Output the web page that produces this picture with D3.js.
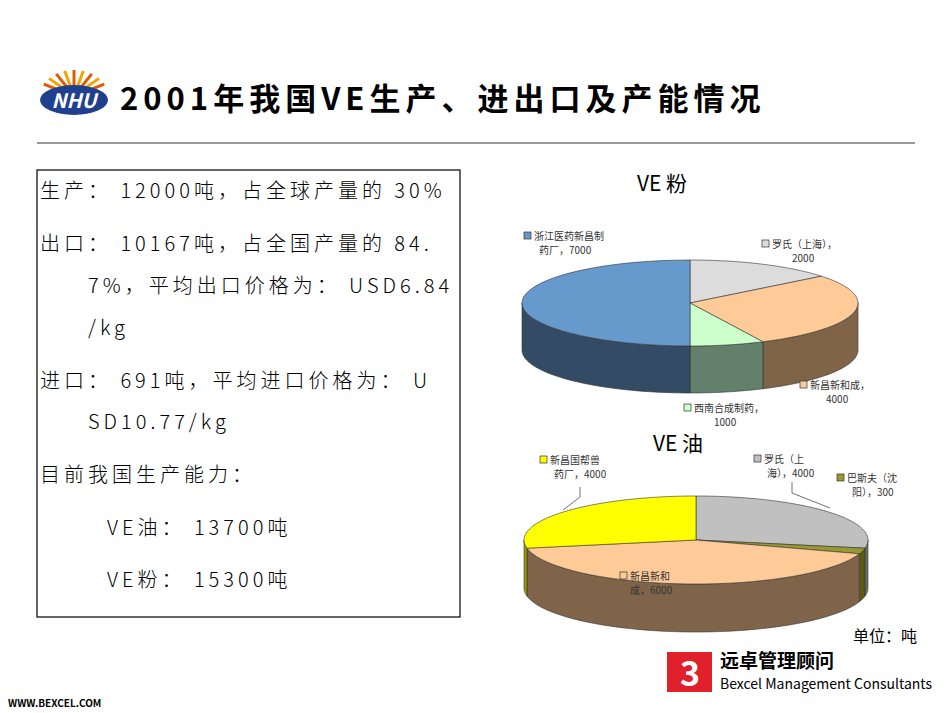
<!DOCTYPE html>
<html><head><meta charset="utf-8">
<script src="https://cdn.jsdelivr.net/npm/d3@7"></script>
<style>body{margin:0;background:#fff}text{font-family:"Noto Sans CJK SC",sans-serif}</style>
</head><body>
<svg id="chart" width="950" height="713"></svg>
<script>
// VE powder
const powderNames = ["罗氏（上海），", "新昌新和成，", "西南合成制药，", "浙江医药新昌制"];
const powderSub = ["2000", "4000", "1000", "药厂，7000"];
const powderValues = [2000, 4000, 1000, 7000];
const powderTop = ["#dcdcdc", "#fecb98", "#ccffcc", "#6699cc"];
const powderSide = ["#8a8a8a", "#806448", "#62806a", "#344b66"];
// VE oil
const oilNames = ["罗氏（上", "巴斯夫（沈", "新昌新和", "新昌国帮兽"];
const oilSub = ["海），4000", "阳），300", "成，6000", "药厂，4000"];
const oilValues = [4000, 300, 6000, 4000];
const oilTop = ["#c0c0c0", "#999933", "#fecb98", "#ffff00"];
const oilSide = ["#6f6f6f", "#5a5a10", "#7f6449", "#9a9a00"];
const textLines = [
  ["生产：  12000吨，占全球产量的 30%", 40, 198],
  ["出口：  10167吨，占全国产量的 84.", 40, 251],
  ["7%，平均出口价格为：  USD6.84", 88, 293],
  ["/kg", 88, 335],
  ["进口：  691吨，平均进口价格为：  U", 40, 388],
  ["SD10.77/kg", 88, 429],
  ["目前我国生产能力：", 40, 482],
  ["VE油：  13700吨", 107, 535],
  ["VE粉：  15300吨", 107, 587]
];

const svg = d3.select("#chart");

// header
const logo = svg.append("g");
d3.range(9).forEach(i => {
  const a = -Math.PI * 0.85 + i * Math.PI * 0.7 / 8;
  logo.append("line").attr("x1", 74).attr("y1", 96)
    .attr("x2", 74 + 34 * Math.cos(a)).attr("y2", 96 + 26 * Math.sin(a))
    .attr("stroke", i % 2 ? "#f4a300" : "#e05a00").attr("stroke-width", 3);
});
logo.append("ellipse").attr("cx", 74).attr("cy", 100).attr("rx", 34).attr("ry", 15).attr("fill", "#1f3f8f");
logo.append("text").attr("x", 74).attr("y", 108).attr("text-anchor", "middle").attr("fill", "#fff")
  .attr("font-size", 20).attr("font-weight", "bold").attr("font-style", "italic").text("NHU");
svg.append("text").attr("x", 120).attr("y", 110).attr("font-size", 31).attr("font-weight", "bold")
  .attr("letter-spacing", 5).text("2001年我国VE生产、进出口及产能情况");
svg.append("line").attr("x1", 37).attr("x2", 915).attr("y1", 143).attr("y2", 143).attr("stroke", "#999").attr("stroke-width", 2);

// text box
svg.append("rect").attr("x", 37).attr("y", 170).attr("width", 423).attr("height", 447)
  .attr("fill", "none").attr("stroke", "#000").attr("stroke-width", 1.2);
svg.selectAll(".tl").data(textLines).enter().append("text")
  .attr("x", d => d[1]).attr("y", d => d[2]).attr("font-size", 20)
  .attr("letter-spacing", 4).attr("font-weight", 300)
  .text(d => d[0]);

// 3D pie
function pie3d(values, top, side, cx, cy, rx, ry, depth) {
  const g = svg.append("g");
  const arcs = d3.pie().sort(null)(values);
  const px = d3.scaleLinear().domain([-1, 1]).range([cx - rx, cx + rx]);
  const py = d3.scaleLinear().domain([-1, 1]).range([cy - ry, cy + ry]);
  const pt = (t, dz) => [px(Math.sin(t)), py(-Math.cos(t)) + dz];
  const samples = (a0, a1) => d3.range(0, 41).map(i => a0 + (a1 - a0) * i / 40);
  arcs.forEach((a, i) => {
    const s = Math.max(a.startAngle, Math.PI / 2), e = Math.min(a.endAngle, Math.PI * 1.5);
    if (e > s) {
      const ts = samples(s, e);
      const p = ts.map(t => pt(t, 0)).concat(ts.slice().reverse().map(t => pt(t, depth)));
      g.append("path").attr("d", "M" + p.join("L") + "Z").attr("fill", side[i]).attr("stroke", "#333").attr("stroke-width", 0.6);
    }
  });
  arcs.forEach((a, i) => {
    const p = [[cx, cy]].concat(samples(a.startAngle, a.endAngle).map(t => pt(t, 0)));
    g.append("path").attr("d", "M" + p.join("L") + "Z").attr("fill", top[i]).attr("stroke", "#333").attr("stroke-width", 0.6);
  });
  return g;
}

function labels(names, subs, colors, pos) {
  names.forEach((n, i) => {
    const [x, y, sx] = pos[i];
    svg.append("rect").attr("x", x).attr("y", y - 8).attr("width", 7).attr("height", 7)
      .attr("fill", colors[i]).attr("stroke", "#333").attr("stroke-width", 0.7);
    svg.append("text").attr("x", x + 10).attr("y", y).attr("font-size", 10).attr("fill", "#333").text(n);
    svg.append("text").attr("x", sx).attr("y", y + 14).attr("font-size", 10).attr("fill", "#333").text(subs[i]);
  });
}

svg.append("text").attr("x", 662).attr("y", 191).attr("text-anchor", "middle").attr("font-size", 21).text("VE 粉");
pie3d(powderValues, powderTop, powderSide, 690, 303, 168, 43, 47);
labels(powderNames, powderSub, powderTop, [[762, 248, 792], [800, 389, 826], [684, 412, 714], [524, 240, 539]]);

svg.append("text").attr("x", 678).attr("y", 451).attr("text-anchor", "middle").attr("font-size", 21).text("VE 油");
pie3d(oilValues, oilTop, oilSide, 696, 540, 172, 44, 48);
svg.append("path").attr("d", "M580,487 L580,497 L563,510").attr("fill", "none").attr("stroke", "#333").attr("stroke-width", 0.7);
svg.append("path").attr("d", "M792,482 L792,493 L830,508").attr("fill", "none").attr("stroke", "#333").attr("stroke-width", 0.7);
labels(oilNames, oilSub, oilTop, [[754, 463, 767], [837, 482, 852], [620, 580, 630], [540, 464, 554]]);

// footer
svg.append("text").attr("x", 917).attr("y", 642).attr("text-anchor", "end").attr("font-size", 16).text("单位：吨");
const bx = svg.append("g");
bx.append("rect").attr("x", 667).attr("y", 652).attr("width", 45).attr("height", 40).attr("fill", "#e0202a");
bx.append("text").attr("x", 690).attr("y", 686).attr("text-anchor", "middle").attr("font-size", 34).attr("font-weight", "bold").attr("fill", "#fff").attr("font-family", "'Liberation Sans',sans-serif").text("3");
bx.append("text").attr("x", 720).attr("y", 668).attr("font-size", 19).attr("font-weight", "bold").text("远卓管理顾问");
bx.append("text").attr("x", 720).attr("y", 689).attr("font-size", 14).attr("font-family", "'Liberation Serif',serif").text("Bexcel Management Consultants");
svg.append("text").attr("x", 8).attr("y", 707).attr("font-size", 10).attr("font-weight", "bold").attr("font-family", "'Liberation Sans',sans-serif").text("WWW.BEXCEL.COM");
</script>
</body></html>
